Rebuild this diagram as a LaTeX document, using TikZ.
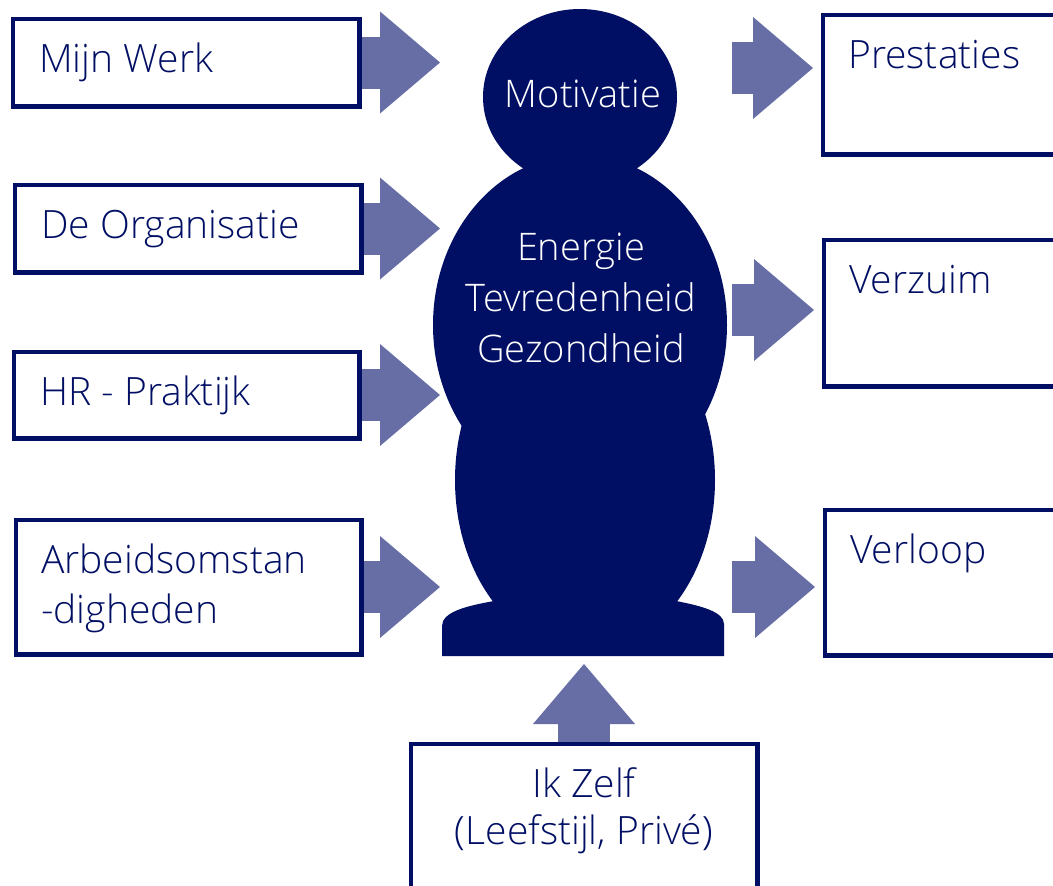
\documentclass[tikz,border=0pt]{standalone}
\usepackage{fontspec}
\setmainfont{Open Sans}[UprightFont=* Light]
\usetikzlibrary{arrows.meta,calc}
\definecolor{navy}{HTML}{000F64}
\definecolor{arrowblue}{HTML}{666EA5}
\begin{document}
\begin{tikzpicture}[x=1pt,y=-1pt,
  box/.style={draw=navy, line width=3pt, fill=white, inner sep=0pt, minimum width=345pt},
  lbl/.style={text=navy, inner sep=0pt, font=\fontsize{39}{50}\selectfont},
  wlbl/.style={text=white, inner sep=0pt, font=\fontsize{38}{51}\selectfont},
  blockarrow/.style={draw=arrowblue, line width=52pt, line cap=butt,
    -{Triangle[length=60pt,width=102pt,line width=0pt]}},
]
\useasboundingbox (0,0) rectangle (1053,886);
\clip (0,0) rectangle (1053,886);
\fill[white] (0,0) rectangle (1053,886);

% central figure
\fill[navy] (580,97) ellipse [x radius=97, y radius=88];
\fill[navy] (580,325) ellipse [x radius=147, y radius=170];
\fill[navy] (585,480) ellipse [x radius=130, y radius=172];
\fill[navy] (442,656) -- (442,626) .. controls (442,612) and (466,606) .. (494,601)
  -- (676,601) .. controls (702,606) and (724,612) .. (724,624) -- (724,656) -- cycle;

\node[wlbl, anchor=base] (mot) at (583,107) {Motivatie};
\node[wlbl, anchor=north, align=center] (egt) at (581,233) {Energie\\Tevredenheid\\Gezondheid};

% boxes
\node[box, minimum height=86pt] (werk) at (186,62.5) {};
\node[box, minimum height=86pt] (org) at (188,228.5) {};
\node[box, minimum width=344pt, minimum height=85pt] (hr) at (186.5,395) {};
\node[box, minimum width=344pt, minimum height=133pt] (arb) at (188.5,587) {};
\node[box, minimum width=300pt, minimum height=138pt] (prest) at (973.5,84.5) {};
\node[box, minimum width=300pt, minimum height=145pt] (verz) at (974.5,313) {};
\node[box, minimum width=300pt, minimum height=144pt] (verl) at (975.5,582.5) {};
\node[box, minimum height=185.5pt] (ikzelf) at (584,837.25) {};

% coordinates for arrow ends
\coordinate (inW) at (440,0);
\coordinate (o1) at (732,68);
\coordinate (o2) at (732,310);
\coordinate (o3) at (732,587);
\coordinate (upT) at (0,664);

% arrows
\draw[blockarrow] (werk.east) -- (werk.east -| inW);
\draw[blockarrow] (org.east) -- (org.east -| inW);
\draw[blockarrow] (hr.east) -- (hr.east -| inW);
\draw[blockarrow] (arb.east) -- (arb.east -| inW);
\draw[blockarrow] (o1) -- ($(o1 -| prest.west)+(-9,0)$);
\draw[blockarrow] (o2) -- ($(o2 -| verz.west)+(-9,0)$);
\draw[blockarrow] (o3) -- ($(o3 -| verl.west)+(-9,0)$);
\draw[blockarrow] (ikzelf.north) -- (ikzelf.north |- upT);

% redraw box borders over arrow starts
\foreach \b in {werk,org,hr,arb,prest,verz,verl,ikzelf}
  \draw[navy, line width=3pt] (\b.north west) rectangle (\b.south east);

% labels
\node[lbl, anchor=base west] (t1) at ($(werk.north west)+(27,54)$) {Mijn Werk};
\node[lbl, anchor=base west] (t2) at ($(org.north west)+(27,54)$) {De Organisatie};
\node[lbl, anchor=base west] (t3) at ($(hr.north west)+(27,54)$) {HR - Praktijk};
\node[lbl, anchor=north west, align=left] (t4) at ($(arb.north west)+(26,25)$) {Arbeidsomstan\\-digheden};
\node[lbl, anchor=base west] (t5) at ($(prest.north west)+(26,54)$) {Prestaties};
\node[lbl, anchor=base west] (t6) at ($(verz.north west)+(26,54)$) {Verzuim};
\node[lbl, anchor=base west] (t7) at ($(verl.north west)+(26,54)$) {Verloop};
\node[lbl, anchor=north, align=center, font=\fontsize{39}{47}\selectfont] (t8) at ($(ikzelf.north)+(0,24)$) {Ik Zelf\\(Leefstijl, Privé)};
\end{tikzpicture}
\end{document}
